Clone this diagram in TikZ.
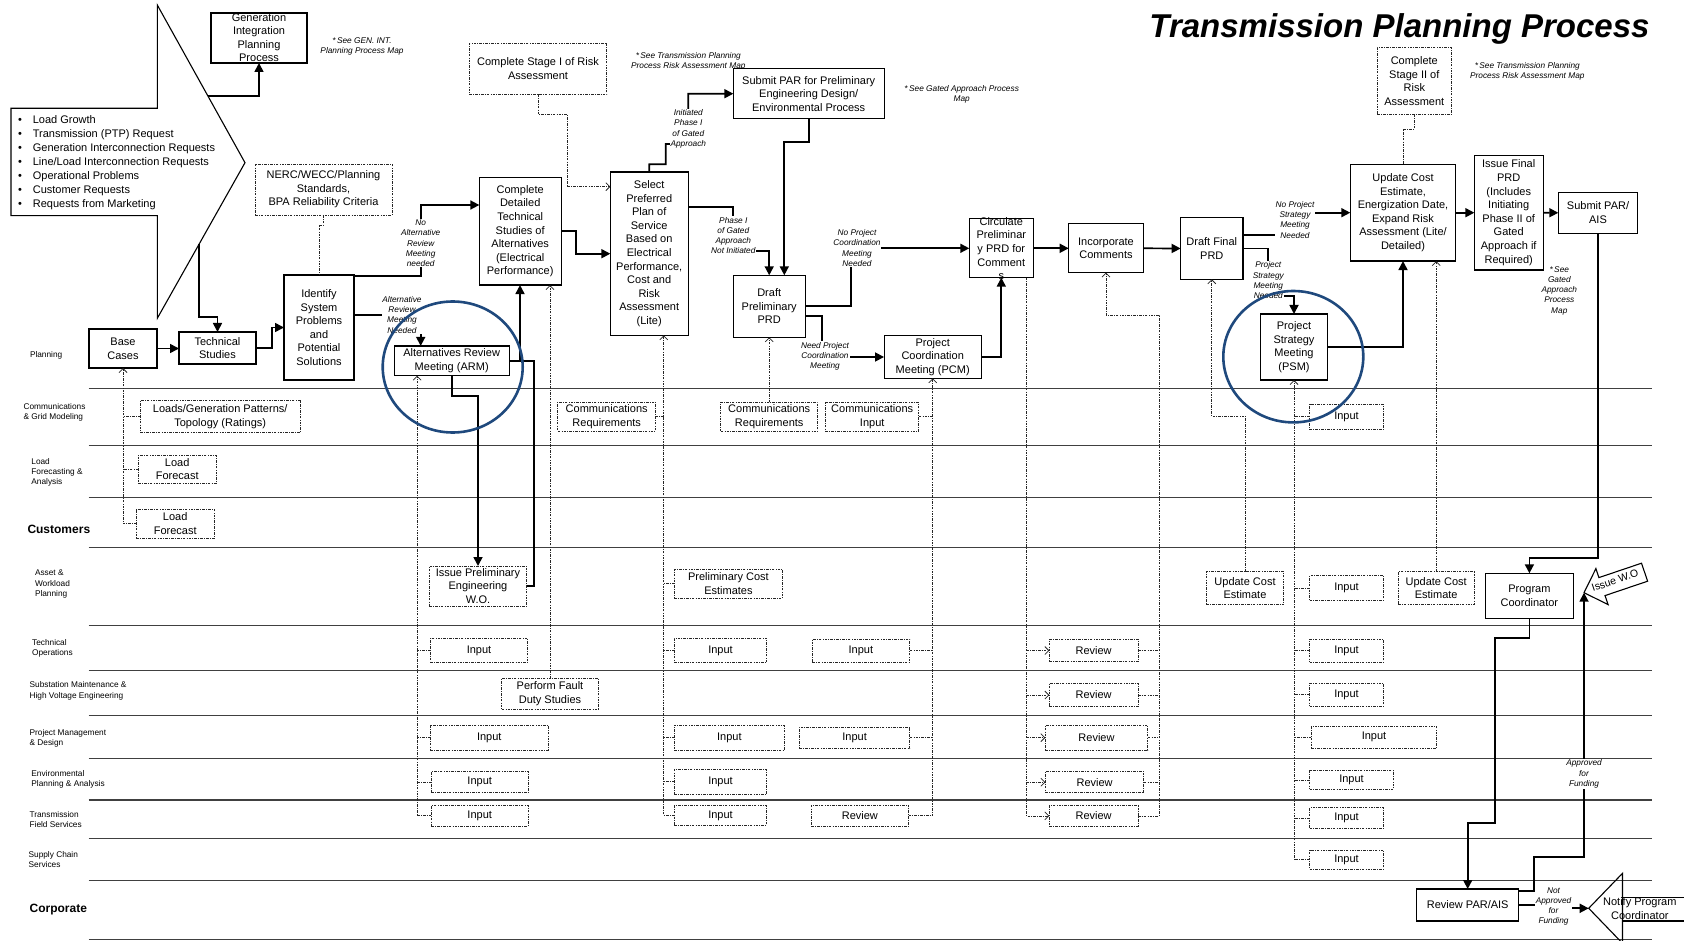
\documentclass[tikz,border=0pt]{standalone}
\usepackage{fontspec}
\setmainfont{Liberation Sans}
\usetikzlibrary{arrows.meta,calc}
\definecolor{ringblue}{RGB}{31,73,125}

\begin{document}
\begin{tikzpicture}[x=1pt,y=-1pt,
  every node/.style={inner sep=0pt, outer sep=0pt},
  boxtext/.style={align=center, font=\fontsize{11}{13.6}\selectfont},
  procbox/.style={boxtext, draw=black, line width=1.1pt, fill=white},
  inbox/.style={boxtext, draw=black!85, line width=0.8pt, dash pattern=on 2.6pt off 1.2pt on 0.8pt off 1.2pt, fill=white},
  flowline/.style={draw=black, line width=1.7pt},
  flow/.style={flowline, -{Triangle[length=9pt,width=9pt]}},
  feed/.style={draw=black!85, line width=0.75pt, dash pattern=on 2.6pt off 1.2pt on 0.8pt off 1.2pt},
  feedarrow/.style={feed, -{Straight Barb[length=4pt,width=8pt]}},
  cond/.style={fill=white, align=center, font=\fontsize{8.3}{10.3}\selectfont\itshape, inner sep=0.6pt},
  note/.style={align=center, font=\fontsize{8.3}{10.2}\selectfont\itshape},
  lane/.style={anchor=west, align=left, font=\fontsize{8.3}{10.2}\selectfont},
  lanebold/.style={anchor=west, font=\fontsize{12}{14}\selectfont\bfseries},
  laneline/.style={draw=black!75, line width=1.1pt},
  ring/.style={draw=ringblue, line width=2.6pt},
  shapeline/.style={draw=black, line width=1.1pt},
]
\useasboundingbox (0,0) rectangle (1684,941);
\clip (0,0) rectangle (1684,941);

% ---------- swimlane separators ----------
\foreach \ly in {388.3,445.3,497.3,547.7,625.7,670.7,715.3,758.7,800,838.7,880.3,939.3}
  \draw[laneline] (88.6,\ly) -- (1651.7,\ly);

% ---------- lane names ----------
\node[lane] (lplan) at (30,355.7) {Planning};
\node[lane] (lcomm) at (23.6,412) {Communications\\\& Grid Modeling};
\node[lane] (lload) at (31.4,472.5) {Load\\Forecasting \&\\Analysis};
\node[lanebold] (lcust) at (27.5,529.5) {Customers};
\node[lane] (lasset) at (35,584) {Asset \&\\Workload\\Planning};
\node[lane] (ltech) at (32.1,648) {Technical\\Operations};
\node[lane] (lsub) at (29.6,690.8) {Substation Maintenance \&\\High Voltage  Engineering};
\node[lane] (lpm) at (29.6,738) {Project Management\\\& Design};
\node[lane] (lenv) at (31.4,779.3) {Environmental\\Planning \& Analysis};
\node[lane] (ltfs) at (29.6,819.6) {Transmission\\Field Services};
\node[lane] (lsc) at (28.6,859.8) {Supply Chain\\Services};
\node[lanebold] (lcorp) at (29.6,910) {Corporate};

% ---------- title ----------
\node[anchor=base, font=\fontsize{33}{36}\selectfont\bfseries\itshape] (title) at (1399.5,37.7) {Transmission Planning Process};

% ---------- drivers block arrow ----------
\draw[shapeline, fill=white] (11,108.3) -- (157.3,108.3) -- (157.3,5) -- (245,162.7)
  -- (157.3,318.3) -- (157.3,215.7) -- (11,215.7) -- cycle;
\coordinate (ba1) at (207.9,96);
\coordinate (ba2) at (199,244.3);
\node[anchor=west, align=left, font=\fontsize{11}{14}\selectfont] (drivers) at (18,162.5)
  {\textbullet\hspace{11pt}Load Growth\\
   \textbullet\hspace{11pt}Transmission (PTP) Request\\
   \textbullet\hspace{11pt}Generation Interconnection Requests\\
   \textbullet\hspace{11pt}Line/Load Interconnection Requests\\
   \textbullet\hspace{11pt}Operational Problems\\
   \textbullet\hspace{11pt}Customer Requests\\
   \textbullet\hspace{11pt}Requests from Marketing};

% ---------- reference notes ----------
\node[note] (n1) at (362,46.7) {*\,See GEN. INT.\\Planning Process Map};
\node[note] (n2) at (688.3,61.7) {*\,See Transmission Planning\\Process Risk Assessment Map};
\node[note] (n3) at (961.7,94.3) {*\,See Gated Approach Process\\Map};
\node[note] (n4) at (1527.3,71.7) {*\,See Transmission Planning\\Process Risk Assessment Map};
\node[note] (n5) at (1559.3,290.7) {*\,See\\Gated\\Approach\\Process\\Map};

% ---------- process steps ----------
\node[procbox, minimum width=96pt, minimum height=50pt] (gen) at (259,38) {};
\node[boxtext, font=\fontsize{11}{13.5}\selectfont] (gentext) at (259,37.5) {Generation\\Integration\\Planning\\Process};
\node[procbox, minimum width=68pt, minimum height=39pt] (base) at (123,348.5) {Base\\Cases};
\node[procbox, minimum width=77pt, minimum height=32pt] (tech) at (217.5,348) {Technical\\Studies};
\node[procbox, minimum width=70pt, minimum height=105pt] (ident) at (319,327.5) {Identify\\System\\Problems\\and\\Potential\\Solutions};
\node[procbox, minimum width=114.7pt, minimum height=29.7pt] (arm) at (451.7,360.8) {Alternatives Review\\Meeting (ARM)};
\node[procbox, minimum width=81.7pt, minimum height=107.7pt] (cdt) at (520.2,231.2) {Complete\\Detailed\\Technical\\Studies of\\Alternatives\\(Electrical\\Performance)};
\node[procbox, minimum width=77.7pt, minimum height=163.3pt] (sp) at (649.2,253.7) {Select\\Preferred\\Plan of\\Service\\Based on\\Electrical\\Performance,\\Cost and\\Risk\\Assessment\\(Lite)};
\node[procbox, minimum width=150.7pt, minimum height=50pt] (par) at (808.7,93.7) {Submit PAR for Preliminary\\Engineering Design/\\Environmental Process};
\node[procbox, minimum width=71.7pt, minimum height=62pt] (dpp) at (769.2,306.3) {Draft\\Preliminary\\PRD};
\node[procbox, minimum width=97.3pt, minimum height=42.6pt] (pcm) at (932.7,357) {Project\\Coordination\\Meeting (PCM)};
\node[procbox, minimum width=64pt, minimum height=58.7pt] (circ) at (1001.3,248.3) {};
\node[boxtext] (circtext) at (1001.3,248.5) {Circulate\\Preliminar\\y PRD for\\Comment\\s};
\node[procbox, minimum width=74.6pt, minimum height=48.7pt] (inc) at (1106,248.3) {Incorporate\\Comments};
\node[procbox, minimum width=62.3pt, minimum height=61.6pt] (dfp) at (1211.8,248.5) {Draft Final\\PRD};
\node[procbox, minimum width=66.6pt, minimum height=66pt] (psm) at (1294,347) {Project\\Strategy\\Meeting\\(PSM)};
\node[procbox, minimum width=105.4pt, minimum height=96.7pt] (uce) at (1403,212.7) {Update Cost\\Estimate,\\Energization Date,\\Expand Risk\\Assessment (Lite/\\Detailed)};
\node[procbox, minimum width=68.7pt, minimum height=114.7pt] (ifp) at (1508.7,212.7) {Issue Final\\PRD\\(Includes\\Initiating\\Phase II of\\Gated\\Approach if\\Required)};
\node[procbox, minimum width=79.4pt, minimum height=41pt] (spa) at (1598,212.8) {Submit PAR/\\AIS};
\node[procbox, minimum width=87.7pt, minimum height=45pt] (pc) at (1529.4,595.8) {Program\\Coordinator};
\node[procbox, minimum width=101.8pt, minimum height=32pt] (rpa) at (1467.7,905) {Review PAR/AIS};

% ---------- supporting inputs ----------
\node[inbox, minimum width=137pt, minimum height=51pt] (nerc) at (323.5,189.5) {NERC/WECC/Planning\\Standards,\\BPA Reliability Criteria};
\node[inbox, minimum width=137.4pt, minimum height=51pt] (stage1) at (538,68.8) {Complete Stage I of Risk\\Assessment};
\node[inbox, minimum width=74pt, minimum height=66.6pt] (stage2) at (1414.3,81) {Complete\\Stage II of\\Risk\\Assessment};
\node[inbox, minimum width=159.6pt, minimum height=32pt] (loads) at (220.2,416.7) {Loads/Generation Patterns/\\Topology (Ratings)};
\node[inbox, minimum width=77.9pt, minimum height=28.3pt] (lf1) at (177.2,469.2) {Load\\Forecast};
\node[inbox, minimum width=77.5pt, minimum height=29.3pt] (lf2) at (175.2,523.7) {Load\\Forecast};
\node[inbox, minimum width=97.5pt, minimum height=40pt] (iwo) at (478,586) {Issue Preliminary\\Engineering\\W.O.};
\node[inbox, minimum width=97pt, minimum height=24.4pt] (in1to) at (479,650.5) {Input};
\node[inbox, minimum width=96.6pt, minimum height=30.3pt] (pfd) at (550,693.9) {Perform Fault\\Duty Studies};
\node[inbox, minimum width=117.8pt, minimum height=25pt] (in1pm) at (489.3,737.5) {Input};
\node[inbox, minimum width=96.5pt, minimum height=21pt] (in1env) at (479.7,782.2) {Input};
\node[inbox, minimum width=96.5pt, minimum height=20.7pt] (in1tfs) at (479.7,815.7) {Input};
\node[inbox, minimum width=97.7pt, minimum height=28.7pt] (cr1) at (606.7,416.7) {Communications\\Requirements};
\node[inbox, minimum width=108pt, minimum height=29pt] (pce) at (728.4,583.8) {Preliminary Cost\\Estimates};
\node[inbox, minimum width=92.2pt, minimum height=24.4pt] (in2to) at (720.5,650.5) {Input};
\node[inbox, minimum width=110pt, minimum height=25pt] (in2pm) at (729.4,737.5) {Input};
\node[inbox, minimum width=92.2pt, minimum height=25pt] (in2env) at (720.5,781.8) {Input};
\node[inbox, minimum width=92.2pt, minimum height=19.3pt] (in2tfs) at (720.5,815.4) {Input};
\node[inbox, minimum width=96.9pt, minimum height=28.7pt] (cr2) at (769.2,416.7) {Communications\\Requirements};
\node[inbox, minimum width=93.3pt, minimum height=28.7pt] (ci) at (872.2,416.7) {Communications\\Input};
\node[inbox, minimum width=97.7pt, minimum height=22.7pt] (in3to) at (860.9,650.7) {Input};
\node[inbox, minimum width=110.3pt, minimum height=21pt] (in3pm) at (854.6,737.8) {Input};
\node[inbox, minimum width=97.2pt, minimum height=20.7pt] (rv3tfs) at (859.9,815.7) {Review};
\node[inbox, minimum width=88.6pt, minimum height=22.4pt] (rvto) at (1093.6,650.5) {Review};
\node[inbox, minimum width=88.6pt, minimum height=23.4pt] (rvss) at (1093.6,695) {Review};
\node[inbox, minimum width=102.4pt, minimum height=24.7pt] (rvpm) at (1096.5,737.7) {Review};
\node[inbox, minimum width=98.5pt, minimum height=21pt] (rvenv) at (1094.6,782.2) {Review};
\node[inbox, minimum width=88.6pt, minimum height=20.3pt] (rvtfs) at (1093.6,815.9) {Review};
\node[inbox, minimum width=77.4pt, minimum height=32.6pt] (uc1) at (1245,588) {Update Cost\\Estimate};
\node[inbox, minimum width=76.3pt, minimum height=32.6pt] (uc2) at (1436.2,588) {Update Cost\\Estimate};
\node[inbox, minimum width=73.7pt, minimum height=25pt] (incomm) at (1346.5,416.8) {Input};
\node[inbox, minimum width=73.7pt, minimum height=24.3pt] (inasset) at (1346.5,587.9) {Input};
\node[inbox, minimum width=73.7pt, minimum height=22.7pt] (inpto) at (1346.5,650.7) {Input};
\node[inbox, minimum width=73.7pt, minimum height=22.7pt] (inss) at (1346.5,694.7) {Input};
\node[inbox, minimum width=125.1pt, minimum height=22.3pt] (inpm) at (1374,737.2) {Input};
\node[inbox, minimum width=83.8pt, minimum height=18.6pt] (inenv) at (1351.5,780) {Input};
\node[inbox, minimum width=73.7pt, minimum height=20.6pt] (intfs) at (1346.5,818) {Input};
\node[inbox, minimum width=73.7pt, minimum height=19pt] (insc) at (1346.5,859.5) {Input};

% ---------- issue work order and notification shapes ----------
\coordinate (wotip) at (1584,592.7);
\draw[shapeline, fill=white] (wotip) -- (1595.9,568.6) -- (1598.9,577.6) -- (1641.5,563.2)
  -- (1647.6,581.2) -- (1605.0,595.6) -- (1608.1,604.6) -- cycle;
\node[font=\fontsize{10.5}{12}\selectfont, rotate=18.7] (wotext) at (1615,580.5) {Issue W.O};
\coordinate (ntip) at (1588.7,908.3);
\draw[shapeline] (1622.5,873.3) -- (ntip) -- (1622.5,943.3) -- cycle;
\draw[shapeline] (1622.5,897.3) -- (1690,897.3) (1622.5,921) -- (1690,921);
\node[boxtext] (notify) at (1639.8,908.3) {Notify Program\\Coordinator};

% ---------- main flow ----------
\draw[flow] (ba1) -| (gen.south);
\draw[flow] (ba2) -- (199,317) -| (tech.north);
\draw[flow] (base.east) -- (base.east -| tech.west);
\draw[flow] (tech.east) -- ++(16,0) |- (ident.west);
\draw[flow] (ident.east |- 0,276) -- (420.7,276) -- (420.7,205) -- (cdt.west |- 0,205);
\draw[flow] (ident.east |- 0,315) -- (420.7,315) -- (420.7,0 |- arm.north);
\draw[flow] (arm.south) -- ++(0,20.3) -| (iwo.north);
\coordinate (armjoin) at (520,0 |- arm.east);
\draw[flowline] (iwo.east) -| (534,0 |- arm.east) -- (arm.east);
\draw[flow] (armjoin) -- (armjoin |- cdt.south);
\draw[flow] (cdt.east) -- ++(14.7,0) |- (sp.west);
\draw[flow] (sp.north) -- ++(0,-7.7) -- (665.7,164.3) -- (665.7,144) -- (688.3,144) -- (688.3,0 |- par.west) -- (par.west);
\draw[flow] (par.south) -- ++(0,23.6) -| (784.3,0 |- dpp.north);
\draw[flow] (sp.east |- 0,206.7) -- (733.3,206.7) -- (733.3,250.7) -| (dpp.north);
\draw[flow] (dpp.east) -- (850.7,0 |- dpp.east) -- (850.7,0 |- circ.west) -- (circ.west);
\draw[flow] (dpp.east |- 0,315.7) -- (821.7,315.7) -- (821.7,0 |- pcm.west) -- (pcm.west);
\draw[flow] (pcm.east) -| (circ.south);
\draw[flow] (circ.east) -- (inc.west);
\draw[flow] (inc.east) -- (dfp.west);
\draw[flow] (dfp.east |- 0,235) -- (1295,235) -- (1295,0 |- uce.west) -- (uce.west);
\draw[flow] (dfp.east) -- (1268.3,0 |- dfp.east) -- (1268.3,295.7) -| (psm.north);
\draw[flow] (psm.east) -| (uce.south);
\draw[flow] (uce.east) -- (ifp.west);
\draw[flow] (ifp.east) -- (spa.west);
\draw[flow] (spa.south) -- (spa.south |- 0,557.7) -| (pc.north);
\draw[flow] (pc.south) -- ++(0,20) -| (1495.2,823.3) -| (rpa.north);
\draw[flow] (rpa.east |- 0,891) -- (1533.7,891) -- (1533.7,856.7) -| (wotip);
\draw[flow] (rpa.east) -- (1553.5,0 |- rpa.east) |- (ntip);

% ---------- supporting input links ----------
\draw[feed] (nerc.south) -- ++(0,10) -| (ident.north);
\draw[feedarrow] (stage1.south) -- ++(0,20) -| (567.3,186.7) -- (sp.west |- 0,186.7);
\draw[feed] (stage2.south) -- ++(0,14.7) -| (uce.north);
\draw[feedarrow] (lf2.west) -| (base.south);
\draw[feed] (loads.west) -- (loads.west -| base.south);
\draw[feed] (lf1.west) -- (lf1.west -| base.south);
\draw[feedarrow] (in1tfs.west) -| (417.1,0 |- arm.south);
\foreach \b in {in1to,in1pm,in1env} \draw[feed] (\b.west) -- (\b.west -| 417.1,0);
\draw[feedarrow] (pfd.north) -- (pfd.north |- cdt.south);
\draw[feedarrow] (in2tfs.west) -| (663.8,0 |- sp.south);
\draw[feed] (cr1.east) -- (cr1.east -| 663.8,0);
\foreach \b in {pce,in2to,in2pm,in2env} \draw[feed] (\b.west) -- (\b.west -| 663.8,0);
\draw[feedarrow] (cr2.north) -- (cr2.north |- dpp.south);
\draw[feedarrow] (rv3tfs.east) -| (pcm.south);
\foreach \b in {ci,in3to,in3pm} \draw[feed] (\b.east) -- (\b.east -| pcm.south);
\draw[feedarrow] (1026.4,0 |- circ.south) |- (rvtfs.west);
\foreach \b in {rvto,rvss,rvpm,rvenv} \draw[feedarrow] (\b.west -| 1026.4,0) -- (\b.west);
\draw[feedarrow] (rvtfs.east) -| (1159,315) -| (inc.south);
\foreach \b in {rvto,rvss,rvpm,rvenv} \draw[feed] (\b.east) -- (\b.east -| 1159,0);
\draw[feedarrow] (uc1.north) -- (uc1.north |- 0,416) -| (dfp.south);
\draw[feedarrow] (insc.west) -| (psm.south);
\foreach \b in {incomm,inasset,inpto,inss,inpm,inenv,intfs} \draw[feed] (\b.west) -- (\b.west -| psm.south);
\draw[feedarrow] (uc2.north) -- (uc2.north |- uce.south);

% ---------- decision labels ----------
\node[cond] (c1) at (420.7,243.4) {No\\Alternative\\Review\\Meeting\\needed};
\node[cond] (c2) at (402,314.8) {Alternative\\Review\\Meeting\\Needed};
\node[cond] (c3) at (688.3,128.8) {Initiated\\Phase I\\of Gated\\Approach};
\node[cond] (c4) at (733.3,235.5) {Phase I\\of Gated\\Approach\\Not Initiated};
\node[cond] (c5) at (857,248) {No Project\\Coordination\\Meeting\\Needed};
\node[cond] (c6) at (825,356.2) {Need Project\\Coordination\\Meeting};
\node[cond] (c7) at (1295,219.7) {No Project\\Strategy\\Meeting\\Needed};
\node[cond] (c8) at (1268.3,280.3) {Project\\Strategy\\Meeting\\Needed};
\node[cond] (c9) at (1584,774) {Approved\\for\\Funding};
\node[cond] (c10) at (1553.5,906.5) {Not\\Approved\\for\\Funding};

% ---------- meeting highlights ----------
\draw[ring] (452.7,367) ellipse [x radius=70pt, y radius=65.5pt];
\draw[ring] (1293.3,356.7) ellipse [x radius=70pt, y radius=65.7pt];
\end{tikzpicture}
\end{document}
